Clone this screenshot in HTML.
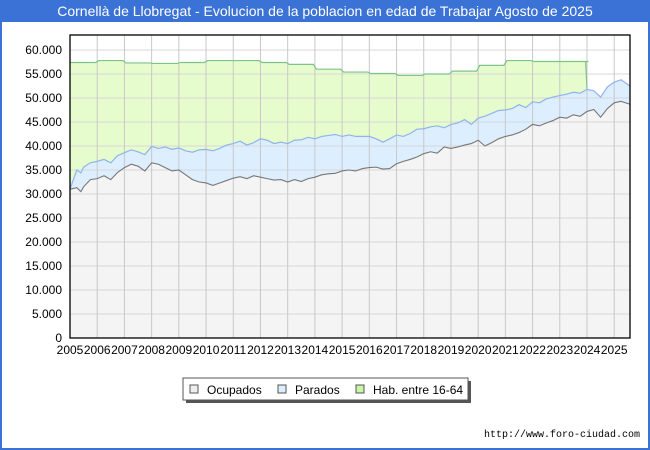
<!DOCTYPE html>
<html><head><meta charset="utf-8"><style>
body{margin:0;background:#fff;font-family:"Liberation Sans","DejaVu Sans",sans-serif;}
#wrap{position:relative;width:650px;height:450px;box-sizing:border-box;border:2px solid #3b72d6;border-top:none;background:#fff;overflow:hidden}
#title{position:absolute;left:0;top:0;width:646px;height:22px;background:#3b72d6;color:#fff;font-size:14px;text-align:center;line-height:22px}
svg{position:absolute;left:-2px;top:0}
</style></head><body>
<div id="wrap">
<div id="title">Cornellà de Llobregat - Evolucion de la poblacion en edad de Trabajar Agosto de 2025</div>
<svg id="chart" width="650" height="450"></svg>
</div>
<script>
const years = [2005,2006,2007,2008,2009,2010,2011,2012,2013,2014,2015,2016,2017,2018,2019,2020,2021,2022,2023,2024,2025];
const yTicks = [0,5000,10000,15000,20000,25000,30000,35000,40000,45000,50000,55000,60000];
const habT = [2005,2006,2007,2008,2009,2010,2011,2012,2013,2014,2015,2016,2017,2018,2019,2020,2021,2022,2023,2024];
const habV = [57400,57800,57300,57200,57400,57800,57800,57400,57000,56000,55400,55100,54700,55000,55600,56800,57800,57600,57600,57600];
const t = [2005,2005.25,2005.4,2005.5,2005.75,2006,2006.25,2006.5,2006.75,2007,2007.25,2007.5,2007.75,2008,2008.25,2008.5,2008.75,2009,2009.25,2009.5,2009.75,2010,2010.25,2010.5,2010.75,2011,2011.25,2011.5,2011.75,2012,2012.25,2012.5,2012.75,2013,2013.25,2013.5,2013.75,2014,2014.25,2014.5,2014.75,2015,2015.25,2015.5,2015.75,2016,2016.25,2016.5,2016.75,2017,2017.25,2017.5,2017.75,2018,2018.25,2018.5,2018.75,2019,2019.25,2019.5,2019.75,2020,2020.25,2020.5,2020.75,2021,2021.25,2021.5,2021.75,2022,2022.25,2022.5,2022.75,2023,2023.25,2023.5,2023.75,2024,2024.25,2024.5,2024.75,2025,2025.25,2025.58];
const ocup = [31000,31300,30500,31500,33000,33200,33800,33000,34500,35500,36200,35800,34800,36500,36200,35500,34800,35000,34000,33000,32500,32300,31800,32300,32800,33300,33600,33200,33800,33500,33200,32900,33000,32500,33000,32600,33200,33500,34000,34200,34300,34800,35000,34800,35300,35500,35600,35200,35300,36300,36800,37200,37700,38400,38800,38500,39800,39500,39800,40200,40500,41200,40000,40700,41500,42000,42300,42800,43500,44500,44200,44800,45300,46000,45800,46500,46200,47200,47600,46000,47800,49000,49300,48700];
const parad = [31000,35000,34400,35600,36500,36800,37200,36500,38000,38600,39200,38800,38200,39900,39500,39800,39300,39600,39000,38700,39200,39300,39000,39500,40200,40500,41000,40200,40700,41500,41200,40500,40800,40500,41200,41300,41800,41500,42000,42200,42400,42000,42300,42000,42000,42000,41500,40800,41500,42300,42000,42600,43500,43600,44000,44200,43800,44500,44800,45500,44500,45800,46200,46800,47400,47500,47800,48600,48000,49200,49000,49800,50200,50500,50800,51200,51000,51800,51500,50200,52300,53300,53800,52500];
const X0=70,X1=630,Y0=338,Y1=35,TMIN=2005,TMAX=2025.58,VMAX=63125;
const xs=v=>X0+(v-TMIN)/(TMAX-TMIN)*(X1-X0);
const ys=v=>Y0-v/VMAX*(Y0-Y1);
const svg=document.getElementById('chart');
const NS='http://www.w3.org/2000/svg';
function mk(tag,attrs,parent){const e=document.createElementNS(NS,tag);for(const k in attrs)e.setAttribute(k,attrs[k]);(parent||svg).appendChild(e);return e;}
const bg=mk('rect',{x:X0,y:Y1,width:X1-X0,height:Y0-Y1,fill:'#fff'});


let hp=`M${xs(2005)},${ys(0)}`;
for(let i=0;i<habT.length;i++){const x=xs(habT[i]);const xe=i<habT.length-1?xs(habT[i+1])-1.5:xs(2023.95);hp+=`L${x+ (i?1.5:0)},${ys(habV[i])}L${xe},${ys(habV[i])}`;}
let pIdx=t.findIndex(v=>v>=2024);
hp+=`L${xs(2024)},${ys(parad[pIdx])}`;
for(let i=pIdx;i<t.length;i++)hp+=`L${xs(t[i])},${ys(parad[i])}`;
hp+=`L${xs(TMAX)},${ys(0)}Z`;
const habArea=mk('path',{d:hp,fill:'#e6fccc',stroke:'none'});


let pl='';for(let i=0;i<t.length;i++)pl+=(i?'L':'M')+xs(t[i])+','+ys(parad[i]);
const parArea=mk('path',{d:pl+`L${xs(TMAX)},${ys(0)}L${xs(2005)},${ys(0)}Z`,fill:'#ddeeff',stroke:'none'});


let ol='';for(let i=0;i<t.length;i++)ol+=(i?'L':'M')+xs(t[i])+','+ys(ocup[i]);
const ocArea=mk('path',{d:ol+`L${xs(TMAX)},${ys(0)}L${xs(2005)},${ys(0)}Z`,fill:'#f4f4f4',stroke:'none'});


yTicks.forEach(v=>{const g=mk('line',{x1:X0,x2:X1,y1:ys(v),y2:ys(v),stroke:'#d8d8d8','stroke-width':1});


const l=mk('text',{x:X0-8,y:ys(v)+4,'text-anchor':'end','font-size':'12',fill:'#000'});l.textContent=v.toLocaleString('de-DE');

});
years.forEach(v=>{const g=mk('line',{x1:xs(v),x2:xs(v),y1:Y1,y2:Y0,stroke:'#c8c8c8','stroke-width':1});


const l=mk('text',{x:xs(v),y:Y0+16,'text-anchor':'middle','font-size':'12',fill:'#000'});l.textContent=v;

});
let hl=hp.replace(/^M[^L]*L/,'M').replace(/L[^L]*Z$/,'');
const habLine=mk('path',{d:hl.split('L').slice(0,habT.length*2+1).join('L'),fill:'none',stroke:'#7cc48a','stroke-width':1.2});


const parLine=mk('path',{d:pl,fill:'none',stroke:'#8fb4ec','stroke-width':1.2});


const ocLine=mk('path',{d:ol,fill:'none',stroke:'#777','stroke-width':1.1});


const fr=mk('rect',{x:X0,y:Y1,width:X1-X0,height:Y0-Y1,fill:'none',stroke:'#000','stroke-width':1.3});


const lg=mk('g',{});


mk('rect',{x:186,y:381,width:285,height:22,fill:'#555'},lg);
mk('rect',{x:183,y:378,width:285,height:22,fill:'#fff',stroke:'#555'},lg);
[['Ocupados','#eee',190],['Parados','#ddeeff',278],['Hab. entre 16-64','#ccf5a8',356]].forEach(([n,c,x])=>{
const e=mk('g',{},lg);


mk('rect',{x:x,y:385,width:8,height:8,fill:c,stroke:'#555'},e);
const tx=mk('text',{x:x+17,y:394,'font-size':'12',fill:'#000'},e);tx.textContent=n;});
const u=mk('text',{x:640,y:437,'text-anchor':'end','font-size':'10','font-family':'Liberation Mono, monospace',fill:'#000'});u.textContent='http://www.foro-ciudad.com';


</script>
</body></html>
